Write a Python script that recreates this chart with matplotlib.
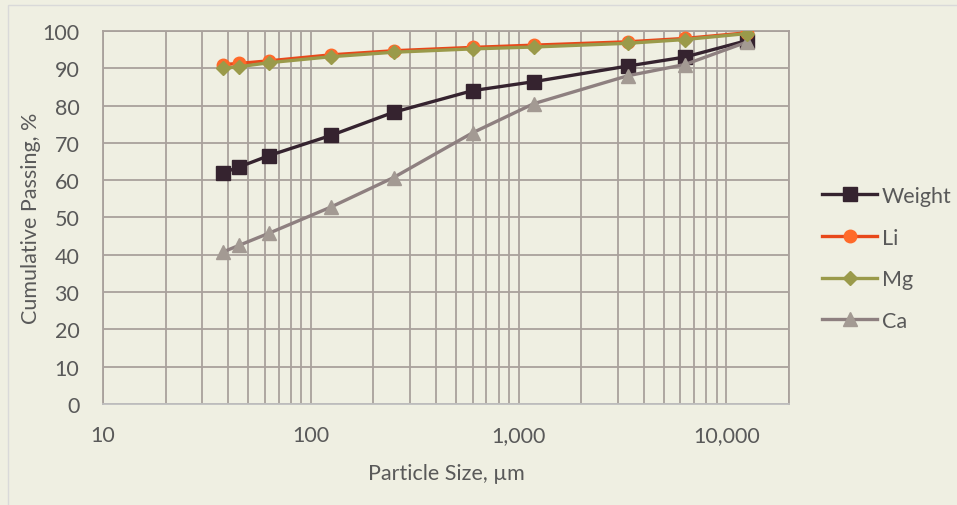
import matplotlib
matplotlib.use("Agg")
import matplotlib.pyplot as plt
from matplotlib.ticker import FixedLocator, FuncFormatter, LogLocator, NullFormatter
from matplotlib.patches import Rectangle

sizes = [38, 45, 63, 125, 250, 600, 1180, 3350, 6300, 12500]
weight = [62.0, 63.5, 66.6, 72.0, 78.2, 84.0, 86.4, 90.6, 93.0, 97.4]
li = [91.0, 91.3, 92.0, 93.6, 94.7, 95.6, 96.2, 97.1, 98.0, 99.5]
mg = [90.0, 90.4, 91.5, 93.1, 94.3, 95.2, 95.7, 96.7, 97.7, 99.3]
ca = [40.8, 42.5, 45.8, 52.8, 60.7, 72.7, 80.5, 88.0, 91.0, 97.0]

bg = "#EFEFE2"
grid_c = "#A9A19C"
text_c = "#595959"
fs = 15.5

plt.rcParams['font.family'] = ['Lato', 'DejaVu Sans']

fig = plt.figure(figsize=(9.57, 5.06), dpi=100, facecolor=bg)
ax = fig.add_axes([0.1076, 0.1996, 0.8245 - 0.1076, 0.9368 - 0.1996])
ax.set_facecolor(bg)

fig.patches.append(Rectangle((8/957, -0.01), 1.02, 1 - 6/506 + 0.01, transform=fig.transFigure,
                             fill=False, edgecolor="#D9D9D9", linewidth=1.0))

ax.plot(sizes, weight, color="#35232F", lw=2.4, marker="s", ms=10, label="Weight", zorder=3)
ax.plot(sizes, li, color="#E8481A", lw=2.4, marker="o", ms=9, mfc="#FF6A2A", mec="#FF6A2A", label="Li", zorder=3)
ax.plot(sizes, mg, color="#9A9A4A", lw=2.4, marker="D", ms=7.5, mfc="#9A9A4A", mec="#9A9A4A", label="Mg", zorder=4)
ax.plot(sizes, ca, color="#8E8080", lw=2.4, marker="^", ms=10, mfc="#A39A93", mec="#A39A93", label="Ca", zorder=3)

ax.set_xscale("log")
ax.set_xlim(10, 20000)
ax.set_ylim(0, 100)
ax.set_yticks(range(0, 101, 10))
ax.xaxis.set_major_locator(FixedLocator([10, 100, 1000, 10000]))
ax.xaxis.set_minor_locator(LogLocator(base=10, subs=range(2, 10)))
ax.xaxis.set_minor_formatter(NullFormatter())
ax.xaxis.set_major_formatter(FuncFormatter(lambda v, p: f"{int(round(v)):,}"))

ax.grid(True, which="both", axis="x", color=grid_c, lw=1.3)
ax.grid(True, which="major", axis="y", color=grid_c, lw=1.3)
ax.set_axisbelow(True)
for s in ax.spines.values():
    s.set_color(grid_c)
    s.set_linewidth(1.3)
ax.spines['bottom'].set_color("#BFBFBF")

ax.tick_params(which="both", length=0, labelsize=fs, colors=text_c)
ax.tick_params(axis="x", pad=15)
ax.tick_params(axis="y", pad=17)

ax.set_xlabel("Particle Size, µm", fontsize=fs, color=text_c)
ax.set_ylabel("Cumulative Passing, %", fontsize=fs, color=text_c)
ax.xaxis.set_label_coords(0.5, -0.158)
ax.yaxis.set_label_coords(-0.09, 0.5)

leg = fig.legend(loc="upper left", bbox_to_anchor=(822/957, 1 - 187/506), frameon=False, fontsize=fs,
                 handlelength=2.56, handletextpad=0.23, labelspacing=1.0, borderpad=0, borderaxespad=0)
for t in leg.get_texts():
    t.set_color(text_c)

fig.savefig("out.png", dpi=100, facecolor=bg)
